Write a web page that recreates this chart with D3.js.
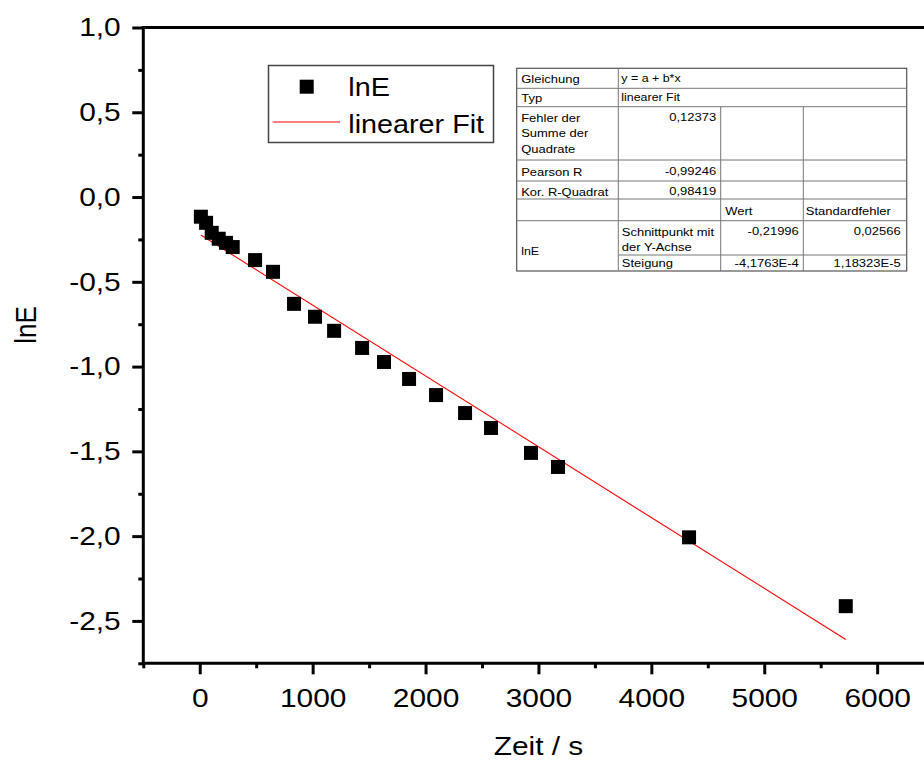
<!DOCTYPE html>
<html>
<head>
<meta charset="utf-8">
<script src="https://cdn.jsdelivr.net/npm/d3@7"></script>
<style>
  html, body { margin: 0; padding: 0; background: #fff; }
  svg { display: block; font-family: "Liberation Sans", Arial, sans-serif; }
</style>
</head>
<body>
<svg id="chart" width="924" height="760"></svg>
<script>
// Measured decay: time in seconds and natural log of E
const timeS = [10, 56, 106, 168, 233, 292, 490, 649, 835, 1021, 1190, 1438,
               1632, 1854, 2093, 2350, 2580, 2934, 3173, 4334, 5722];
const lnE = [-0.116, -0.152, -0.211, -0.246, -0.270, -0.295, -0.372, -0.441,
             -0.630, -0.706, -0.789, -0.890, -0.973, -1.073, -1.168, -1.274,
             -1.362, -1.509, -1.592, -2.007, -2.413];

// Linear fit results  y = a + b*x
const fitIntercept = -0.21996;
const fitInterceptErr = 0.02566;
const fitSlope = -4.1763e-4;
const fitSlopeErr = 1.18323e-5;
const fitSSE = 0.12373;
const pearsonR = -0.99246;
const adjRSquare = 0.98419;

// Axis ticks
const xMajorTicks = [0, 1000, 2000, 3000, 4000, 5000, 6000];
const xMinorTicks = [-500, 500, 1500, 2500, 3500, 4500, 5500, 6500];
const yMajorTicks = [1.0, 0.5, 0.0, -0.5, -1.0, -1.5, -2.0, -2.5];
const yMinorTicks = [0.75, 0.25, -0.25, -0.75, -1.25, -1.75, -2.25, -2.75];

// Texts
const xTitle = "Zeit / s";
const yTitle = "lnE";
const legendLabels = ["lnE", "linearer Fit"];
const tableRowLabels = ["Gleichung", "Typ", ["Fehler der", "Summe der", "Quadrate"],
                        "Pearson R", "Kor. R-Quadrat"];
const fitEquation = "y = a + b*x";
const fitType = "linearer Fit";
const paramHeaders = ["Wert", "Standardfehler"];
const paramGroup = "lnE";
const paramNames = [["Schnittpunkt mit", "der Y-Achse"], ["Steigung"]];

// ---------------------------------------------------------------
const SX = 1.15;          // horizontal widening of the lettering
const FONT = 26;
const svg = d3.select("#chart");

const x = d3.scaleLinear().domain([-500, 6500]).range([143.3, 933.6]);
const y = d3.scaleLinear().domain([-2.75, 1.0]).range([663.3, 27.5]);

const deLocale = d3.formatLocale({ decimal: ",", thousands: ".", grouping: [3], currency: ["", " €"], minus: "-" });
const fmtY = deLocale.format(".1f");
const fmtFixed = v => v.toFixed(5).replace(".", ",");
const fmtExp = (v, n) => v.toExponential(n).replace(".", ",").replace("e", "E");

function txt(parent, px, py, str, size, anchor, extra) {
  return parent.append("text")
    .attr("transform", `translate(${px},${py}) scale(${SX},1)` + (extra || ""))
    .attr("text-anchor", anchor || "start")
    .attr("font-size", size)
    .attr("fill", "#000")
    .text(str);
}

// ---- axes -------------------------------------------------------
const axisW = 3;

// x axis (bottom)
const gx = svg.append("g").attr("transform", `translate(0,${y(-2.75)})`);
gx.call(d3.axisBottom(x).tickValues(xMajorTicks).tickSize(11).tickSizeOuter(0)
  .tickPadding(14.7).tickFormat(d3.format("d")));
gx.call(g => g.select(".domain").remove());
svg.append("g").attr("transform", `translate(0,${y(-2.75)})`)
  .call(d3.axisBottom(x).tickValues(xMinorTicks).tickSize(5).tickSizeOuter(0).tickFormat(""))
  .call(g => g.select(".domain").remove());

// y axis (left)
const gy = svg.append("g").attr("transform", `translate(${x(-500)},0)`);
gy.call(d3.axisLeft(y).tickValues(yMajorTicks).tickSize(11).tickSizeOuter(0)
  .tickPadding(11.6).tickFormat(fmtY));
gy.call(g => g.select(".domain").remove());
svg.append("g").attr("transform", `translate(${x(-500)},0)`)
  .call(d3.axisLeft(y).tickValues(yMinorTicks).tickSize(5).tickSizeOuter(0).tickFormat(""))
  .call(g => g.select(".domain").remove());

svg.selectAll(".tick line").attr("stroke", "#000").attr("stroke-width", axisW);
svg.selectAll(".tick text").attr("font-size", FONT)
  .attr("font-family", '"Liberation Sans", Arial, sans-serif').attr("fill", "#000");
gx.selectAll(".tick text").attr("transform", `scale(${SX},1)`);
gy.selectAll(".tick text").each(function () {
  const t = d3.select(this);
  t.attr("x", +t.attr("x") / SX).attr("transform", `scale(${SX},1)`);
});

// frame lines
const frame = svg.append("g").attr("stroke", "#000").attr("stroke-width", axisW).attr("stroke-linecap", "square");
frame.append("line").attr("x1", x(-500)).attr("x2", x(6500)).attr("y1", y(-2.75)).attr("y2", y(-2.75));
frame.append("line").attr("x1", x(-500)).attr("x2", x(6500)).attr("y1", y(1.0)).attr("y2", y(1.0));
frame.append("line").attr("x1", x(-500)).attr("x2", x(-500)).attr("y1", y(1.0)).attr("y2", y(-2.75));
frame.append("line").attr("x1", x(6500)).attr("x2", x(6500)).attr("y1", y(1.0)).attr("y2", y(-2.75));

// axis titles
txt(svg, (x(-500) + x(6500)) / 2, 755, xTitle, FONT, "middle");
svg.append("text")
  .attr("transform", `translate(36,325) scale(${SX},1) rotate(-90)`)
  .attr("text-anchor", "middle").attr("font-size", FONT).attr("fill", "#000")
  .text(yTitle);

// ---- fit line ---------------------------------------------------
const fitX = d3.extent(timeS);
svg.append("path")
  .datum(fitX.map(t => [t, fitIntercept + fitSlope * t]))
  .attr("d", d3.line().x(d => x(d[0])).y(d => y(d[1])))
  .attr("fill", "none").attr("stroke", "#ff0000").attr("stroke-width", 1.1);

// ---- data points ------------------------------------------------
const M = 14;
svg.append("g").selectAll("rect")
  .data(timeS.map((t, i) => [t, lnE[i]]))
  .join("rect")
  .attr("x", d => x(d[0]) - M / 2).attr("y", d => y(d[1]) - M / 2)
  .attr("width", M).attr("height", M).attr("fill", "#000");

// ---- legend -----------------------------------------------------
const lg = svg.append("g");
lg.append("rect").attr("x", 268.5).attr("y", 65.5).attr("width", 225).attr("height", 77)
  .attr("fill", "#fff").attr("stroke", "#444").attr("stroke-width", 1.5);
lg.append("rect").attr("x", 306.7 - M / 2).attr("y", 86.7 - M / 2).attr("width", M).attr("height", M).attr("fill", "#000");
lg.append("line").attr("x1", 272.7).attr("x2", 340).attr("y1", 122).attr("y2", 122)
  .attr("stroke", "#ff0000").attr("stroke-width", 1.1);
txt(lg, 348.3, 96, legendLabels[0], FONT - 1);
txt(lg, 348.3, 132.7, legendLabels[1], FONT - 1);

// ---- fit result table -------------------------------------------
const tb = svg.append("g");
const cx = [516.7, 618.3, 720.7, 803.3, 906.7];
const ry = [68.3, 88.3, 106.7, 160, 181, 199, 220.7, 255, 271];
const TF = 11.3;
tb.append("rect").attr("x", cx[0]).attr("y", ry[0]).attr("width", cx[4] - cx[0]).attr("height", ry[8] - ry[0])
  .attr("fill", "#fff").attr("stroke", "#555").attr("stroke-width", 1.2);
const grid = tb.append("g").attr("stroke", "#777").attr("stroke-width", 1);
// horizontal rules
[1, 2, 3, 4, 5, 6].forEach(i => grid.append("line").attr("x1", cx[0]).attr("x2", cx[4]).attr("y1", ry[i]).attr("y2", ry[i]));
grid.append("line").attr("x1", cx[1]).attr("x2", cx[4]).attr("y1", ry[7]).attr("y2", ry[7]);
// vertical rules
grid.append("line").attr("x1", cx[1]).attr("x2", cx[1]).attr("y1", ry[0]).attr("y2", ry[8]);
[2, 3].forEach(j => grid.append("line").attr("x1", cx[j]).attr("x2", cx[j]).attr("y1", ry[2]).attr("y2", ry[8]));

const padL = 4.5, padR = 4.5;
txt(tb, cx[0] + padL, 83, tableRowLabels[0], TF);
txt(tb, cx[1] + 3, 82, fitEquation, TF - 0.5);
txt(tb, cx[0] + padL, 102, tableRowLabels[1], TF);
txt(tb, cx[1] + 3, 100.5, fitType, TF - 0.5);
tableRowLabels[2].forEach((s, k) => txt(tb, cx[0] + padL, 122 + k * 15.3, s, TF));
txt(tb, cx[2] - padR, 120.5, fmtFixed(fitSSE), TF, "end");
txt(tb, cx[0] + padL, 176, tableRowLabels[3], TF);
txt(tb, cx[2] - padR, 175, fmtFixed(pearsonR), TF, "end");
txt(tb, cx[0] + padL, 195.5, tableRowLabels[4], TF);
txt(tb, cx[2] - padR, 194.5, fmtFixed(adjRSquare), TF, "end");
txt(tb, cx[2] + padL, 215, paramHeaders[0], TF);
txt(tb, cx[3] + 2.5, 215, paramHeaders[1], TF);
txt(tb, cx[0] + padL, 255, paramGroup, TF - 0.5);
paramNames[0].forEach((s, k) => txt(tb, cx[1] + 3.5, 236 + k * 15, s, TF));
txt(tb, cx[3] - padR, 235, fmtFixed(fitIntercept), TF, "end");
txt(tb, cx[4] - 6, 235, fmtFixed(fitInterceptErr), TF, "end");
txt(tb, cx[1] + 3.5, 267, paramNames[1][0], TF);
txt(tb, cx[3] - padR, 267, fmtExp(fitSlope, 4), TF, "end");
txt(tb, cx[4] - 6, 267, fmtExp(fitSlopeErr, 5), TF, "end");
</script>
</body>
</html>
